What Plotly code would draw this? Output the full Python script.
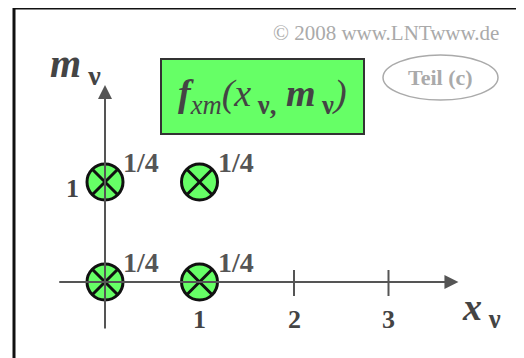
import plotly.graph_objects as go

# ---- data ----
x_vals = [0, 1, 0, 1]
m_vals = [0, 0, 1, 1]
prob_labels = ["1/4", "1/4", "1/4", "1/4"]
x_tick_vals = [1, 2, 3]
x_tick_labels = ["1", "2", "3"]
y_tick_vals = [1]
y_tick_labels = ["1"]

W, H = 524, 358
OFF = 8  # default page body margin
X0PX, Y0PX = 105 - OFF, 282 - OFF
XUNIT, YUNIT = 94.5, 100.0
xr = [-X0PX / XUNIT, (W - X0PX) / XUNIT]
yr = [-(H - Y0PX) / YUNIT, Y0PX / YUNIT]

def px(x):
    return (x - OFF) / W

def py(y):
    return 1 - (y - OFF) / H

SERIF = "Liberation Serif, Times New Roman, serif"
AXC = "#555555"

fig = go.Figure()

annotations = []
annotations.append(dict(x=3.74, y=0, ax=-0.50, ay=0, xref="x", yref="y", axref="x", ayref="y",
                        text="", showarrow=True, arrowhead=2, arrowsize=1.4, arrowwidth=2,
                        arrowcolor=AXC, standoff=0))
annotations.append(dict(x=0, y=1.97, ax=0, ay=-0.48, xref="x", yref="y", axref="x", ayref="y",
                        text="", showarrow=True, arrowhead=2, arrowsize=1.4, arrowwidth=2,
                        arrowcolor=AXC, standoff=0))

shapes = []
for t in [2, 3]:
    shapes.append(dict(type="line", xref="x", yref="y", x0=t, x1=t, y0=-0.14, y1=0.12,
                       line=dict(color=AXC, width=2)))

for v, lab in zip(x_tick_vals, x_tick_labels):
    annotations.append(dict(x=v, y=0, xref="x", yref="y", text="<b>" + lab + "</b>", showarrow=False,
                            xanchor="center", yanchor="middle", yshift=-37,
                            font=dict(family=SERIF, size=26, color="#444444")))
for v, lab in zip(y_tick_vals, y_tick_labels):
    annotations.append(dict(x=0, y=v, xref="x", yref="y", text="<b>" + lab + "</b>", showarrow=False,
                            xanchor="center", yanchor="middle", xshift=-33, yshift=-6,
                            font=dict(family=SERIF, size=26, color="#444444")))

fig.add_trace(go.Scatter(
    x=x_vals, y=m_vals, mode="markers",
    marker=dict(symbol="circle-x", size=36, color="#66ff66",
                line=dict(color="#111111", width=3)),
    hoverinfo="skip", showlegend=False))

for xv, mv, lab in zip(x_vals, m_vals, prob_labels):
    annotations.append(dict(x=xv, y=mv, xref="x", yref="y", text="<b>" + lab + "</b>", showarrow=False,
                            xanchor="left", yanchor="middle", xshift=16, yshift=20,
                            font=dict(family=SERIF, size=28, color="#555555")))

annotations.append(dict(x=px(48), y=py(66), xref="paper", yref="paper", xanchor="left", yanchor="middle",
                        text="<b><i>m</i></b><sub><b> ν</b></sub>", showarrow=False,
                        font=dict(family=SERIF, size=40, color="#444444")))
annotations.append(dict(x=px(460), y=py(310), xref="paper", yref="paper", xanchor="left", yanchor="middle",
                        text="<b><i>x</i></b><sub><b> ν</b></sub>", showarrow=False,
                        font=dict(family=SERIF, size=38, color="#444444")))

shapes.append(dict(type="rect", xref="paper", yref="paper", x0=px(161), x1=px(364),
                   y0=py(134), y1=py(59), fillcolor="#66ff66",
                   line=dict(color="#333333", width=2), layer="below"))
annotations.append(dict(x=px(262), y=py(96), xref="paper", yref="paper", xanchor="center", yanchor="middle",
                        text="<b><i>f</i></b><sub><i>xm</i></sub><i>(x</i><sub><b> ν,</b></sub><b><i> m</i></b><sub><b> ν</b></sub><i>)</i>",
                        showarrow=False, font=dict(family=SERIF, size=38, color="#444444")))

annotations.append(dict(x=px(501), y=py(33), xref="paper", yref="paper", xanchor="right", yanchor="middle",
                        text="© 2008 www.LNTwww.de", showarrow=False,
                        font=dict(family=SERIF, size=21, color="#aaaaaa")))

shapes.append(dict(type="circle", xref="paper", yref="paper", x0=px(383), x1=px(498),
                   y0=py(100), y1=py(55), line=dict(color="#aaaaaa", width=1.5)))
annotations.append(dict(x=px(440), y=py(78), xref="paper", yref="paper", xanchor="center", yanchor="middle",
                        text="<b>Teil (c)</b>", showarrow=False,
                        font=dict(family=SERIF, size=22, color="#aaaaaa")))

shapes.append(dict(type="line", xref="paper", yref="paper", x0=px(14), x1=px(14), y0=0, y1=py(8),
                   line=dict(color="#111111", width=3)))
shapes.append(dict(type="line", xref="paper", yref="paper", x0=px(13), x1=px(523), y0=py(8), y1=py(8),
                   line=dict(color="#111111", width=3)))
shapes.append(dict(type="line", xref="paper", yref="paper", x0=px(522), x1=px(522), y0=0, y1=py(8),
                   line=dict(color="#bbbbbb", width=1.5)))

fig.update_layout(
    width=W, height=H, margin=dict(l=0, r=0, t=0, b=0),
    paper_bgcolor="white", plot_bgcolor="white",
    xaxis=dict(range=xr, visible=False, fixedrange=True),
    yaxis=dict(range=yr, visible=False, fixedrange=True),
    shapes=shapes, annotations=annotations, showlegend=False,
)

fig.write_html("out.html")
